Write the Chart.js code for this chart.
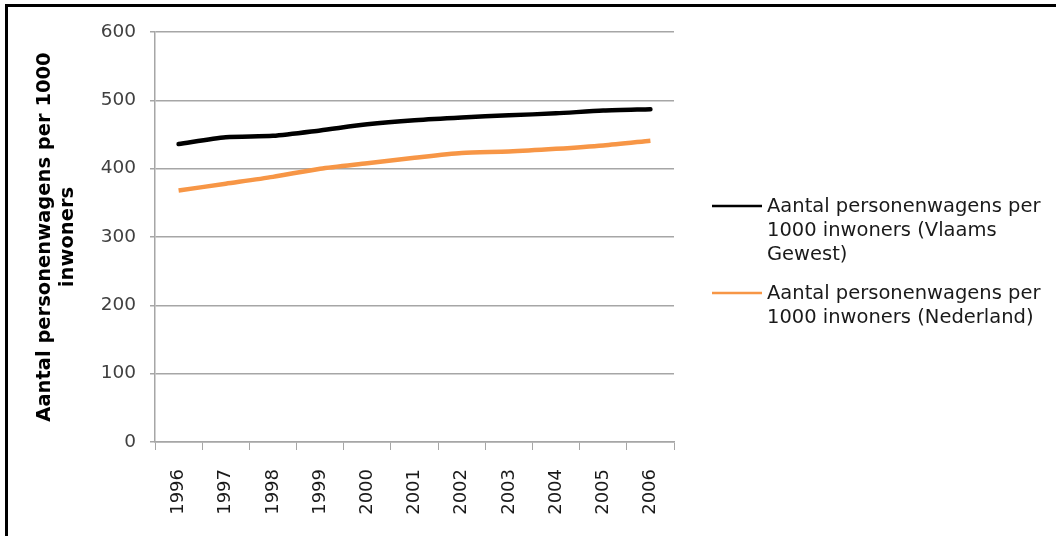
<!DOCTYPE html>
<html>
<head>
<meta charset="utf-8">
<script src="https://cdn.jsdelivr.net/npm/chart.js@4"></script>
<style>
  html, body { margin: 0; padding: 0; background: #fff; }
  #wrap { position: relative; width: 1056px; height: 536px; overflow: hidden; }
  #frame { position: absolute; left: 5px; top: 4px; right: -10px; bottom: -10px;
           border-top: 3px solid #000; border-left: 3px solid #000; pointer-events: none; }
  canvas { position: absolute; left: 0; top: 0; }
</style>
</head>
<body>
<div id="wrap">
  <canvas id="canvas" width="1056" height="536"></canvas>
  <div id="frame"></div>
</div>
<script>
"use strict";

const years = ['1996', '1997', '1998', '1999', '2000', '2001', '2002', '2003', '2004', '2005', '2006'];
const vlaamsGewest = [436, 446, 448, 456, 465, 471, 475, 478, 481, 485, 487];
const nederland = [368, 378, 388, 400, 408, 416, 423, 425, 429, 434, 441];
const seriesLabels = [
    'Aantal personenwagens per 1000 inwoners (Vlaams Gewest)',
    'Aantal personenwagens per 1000 inwoners (Nederland)'
];
const yTicks = [0, 100, 200, 300, 400, 500, 600];

const FONT = "'DejaVu Sans', Verdana, sans-serif";
const GRID = '#a6a6a6';

// legend on the right with wrapped labels, like the Excel original
const wrapLegend = {
    id: 'wrapLegend',
    afterDraw(chart) {
        const ctx = chart.ctx;
        const x0 = 712, textX = 767, maxW = 284, lineH = 24;
        const starts = [206, 293];
        ctx.save();
        ctx.font = '19.5px ' + FONT;
        ctx.textBaseline = 'middle';
        chart.data.datasets.forEach(function (ds, i) {
            const words = ds.label.split(' ');
            const lines = [];
            let cur = '';
            words.forEach(function (w) {
                const test = cur ? cur + ' ' + w : w;
                if (cur && ctx.measureText(test).width > maxW) {
                    lines.push(cur);
                    cur = w;
                } else {
                    cur = test;
                }
            });
            lines.push(cur);
            const y = starts[i];
            ctx.strokeStyle = ds.borderColor;
            ctx.lineWidth = 2.5;
            ctx.beginPath();
            ctx.moveTo(x0, y);
            ctx.lineTo(x0 + 50, y);
            ctx.stroke();
            ctx.fillStyle = '#1a1a1a';
            lines.forEach(function (t, k) {
                ctx.fillText(t, textX, y + 1 + k * lineH);
            });
        });
        ctx.restore();
    }
};

const ctx = document.getElementById('canvas').getContext('2d');
window.myLine = new Chart(ctx, {
    type: 'line',
    data: {
        labels: years,
        datasets: [{
            label: seriesLabels[0],
            data: vlaamsGewest,
            borderColor: '#000000',
            backgroundColor: '#000000',
            borderWidth: 4.5,
            pointRadius: 0,
            tension: 0.25,
            borderCapStyle: 'round'
        }, {
            label: seriesLabels[1],
            data: nederland,
            borderColor: '#f79646',
            backgroundColor: '#f79646',
            borderWidth: 4.5,
            pointRadius: 0,
            tension: 0.25
        }]
    },
    options: {
        responsive: false,
        animation: false,
        layout: {
            padding: { top: 32, right: 382, left: 0, bottom: 0 }
        },
        plugins: {
            legend: { display: false },
            tooltip: { enabled: false }
        },
        scales: {
            x: {
                offset: true,
                grid: {
                    offset: true,
                    drawOnChartArea: false,
                    drawTicks: true,
                    tickLength: 8,
                    color: GRID
                },
                border: { color: GRID, width: 1.5 },
                ticks: {
                    minRotation: 90,
                    maxRotation: 90,
                    padding: 19,
                    color: '#1a1a1a',
                    font: { family: FONT, size: 18 }
                },
                afterFit(scale) {
                    scale.height = 94;
                }
            },
            y: {
                min: 0,
                max: 600,
                afterBuildTicks(scale) {
                    scale.ticks = yTicks.map(function (v) { return { value: v }; });
                },
                grid: {
                    color: GRID,
                    lineWidth: 1.5,
                    tickLength: 5
                },
                border: { color: GRID, width: 1.5 },
                ticks: {
                    padding: 14,
                    color: '#404040',
                    font: { family: FONT, size: 18.5 }
                },
                title: {
                    display: true,
                    text: ['Aantal personenwagens per 1000', 'inwoners'],
                    color: '#000',
                    font: { family: FONT, size: 19.5, weight: 'bold', lineHeight: 1.2 },
                    padding: { top: 33, bottom: 0 }
                },
                afterFit(scale) {
                    scale.width = 155;
                }
            }
        }
    },
    plugins: [wrapLegend]
});
</script>
</body>
</html>
